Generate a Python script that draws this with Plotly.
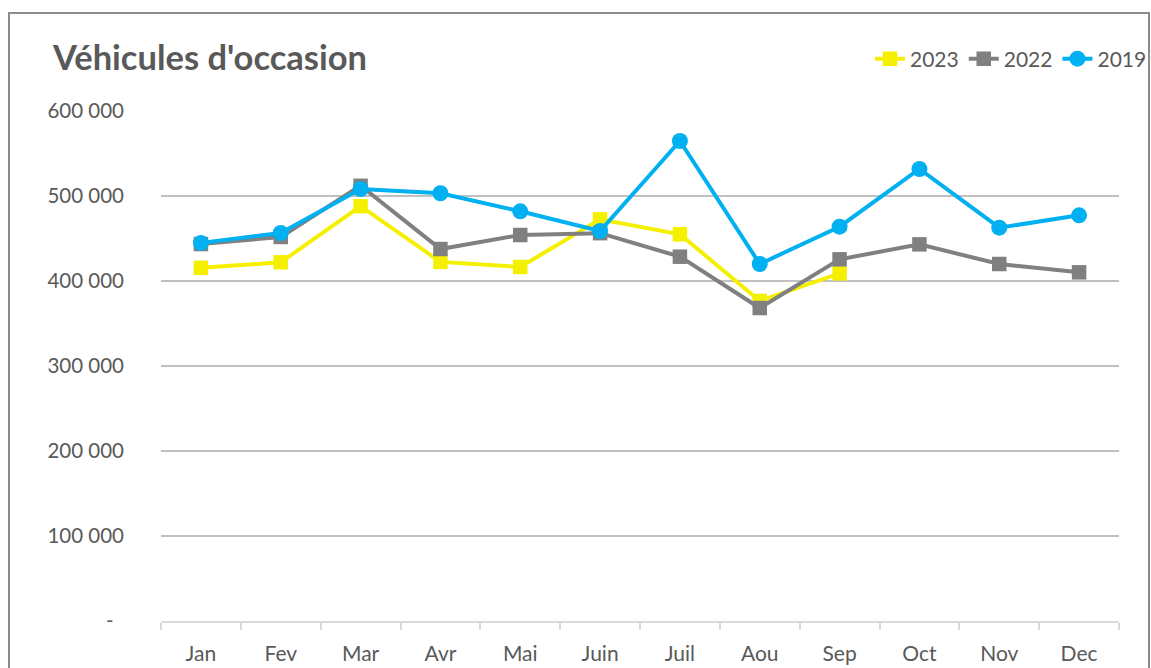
import plotly.graph_objects as go

months = ["Jan", "Fev", "Mar", "Avr", "Mai", "Juin", "Juil", "Aou", "Sep", "Oct", "Nov", "Dec"]
v2023 = [415500, 422000, 488000, 422500, 416500, 472500, 455000, 376500, 409000, None, None, None]
v2022 = [443500, 451800, 512000, 437600, 454100, 456300, 428600, 368200, 425500, 443100, 420000, 410200]
v2019 = [444700, 456500, 508200, 503200, 482000, 458800, 564700, 420000, 463900, 531800, 462700, 477300]
ytick_vals = [0, 100000, 200000, 300000, 400000, 500000, 600000]
ytick_text = ["-  ", "100 000", "200 000", "300 000", "400 000", "500 000", "600 000"]

FONT = "Lato"
TXT = "#595959"

fig = go.Figure()
fig.add_trace(go.Scatter(x=months, y=v2023, name="2023", mode="lines+markers",
                         line=dict(color="#F5F000", width=4),
                         marker=dict(symbol="square", size=14.5, color="#F5F000")))
fig.add_trace(go.Scatter(x=months, y=v2022, name="2022", mode="lines+markers",
                         line=dict(color="#808080", width=4),
                         marker=dict(symbol="square", size=14.5, color="#808080")))
fig.add_trace(go.Scatter(x=months, y=v2019, name="2019", mode="lines+markers",
                         line=dict(color="#00B0F0", width=4),
                         marker=dict(symbol="circle", size=16, color="#00B0F0")))

W, H = 1151, 668
L, R, T, B = 161, 32, 111, 47
pw = W - L - R
ph = H - T - B

def px2paper_x(px):
    return (px - L) / pw

def px2paper_y(py):
    return (H - B - py) / ph

fig.update_layout(
    width=W, height=H,
    margin=dict(l=L, r=R, t=T, b=B, autoexpand=False),
    paper_bgcolor="white", plot_bgcolor="white",
    font=dict(family=FONT, color=TXT, size=20),
    showlegend=True,
    legend=dict(orientation="h", xanchor="right", x=px2paper_x(1152), yanchor="middle",
                y=px2paper_y(59), font=dict(size=21, color=TXT), bgcolor="rgba(0,0,0,0)",
                traceorder="normal", itemwidth=30),
    xaxis=dict(type="category", tickson="boundaries", showgrid=False, showline=True,
               linecolor="#d9d9d9", linewidth=1.5, ticks="outside", ticklen=7,
               tickcolor="#d9d9d9", tickwidth=1.5, tickfont=dict(size=21, color=TXT),
               ticklabelstandoff=13, range=[-0.5, 11.5], fixedrange=True, automargin=False),
    yaxis=dict(range=[0, 600000], tickvals=ytick_vals, ticktext=ytick_text,
               showgrid=True, gridcolor="#c0c0c0", gridwidth=1.5, zeroline=False,
               showline=False, ticks="", ticklabelstandoff=36,
               tickfont=dict(size=20.5, color=TXT), fixedrange=True, automargin=False),
    shapes=[dict(type="rect", xref="paper", yref="paper",
                 x0=px2paper_x(9), x1=px2paper_x(1149), y0=px2paper_y(720), y1=px2paper_y(13),
                 line=dict(color="#8c8c8c", width=2), fillcolor="rgba(0,0,0,0)", layer="below")],
    annotations=[dict(text="<b>Véhicules d'occasion</b>", xref="paper", yref="paper",
                      x=px2paper_x(50), y=px2paper_y(57), xanchor="left", yanchor="middle",
                      showarrow=False, font=dict(size=34.5, color=TXT, family=FONT))],
)

fig.write_html("out.html", config={"displayModeBar": False},
               post_script="document.body.style.margin='0';document.body.style.overflow='hidden';")
